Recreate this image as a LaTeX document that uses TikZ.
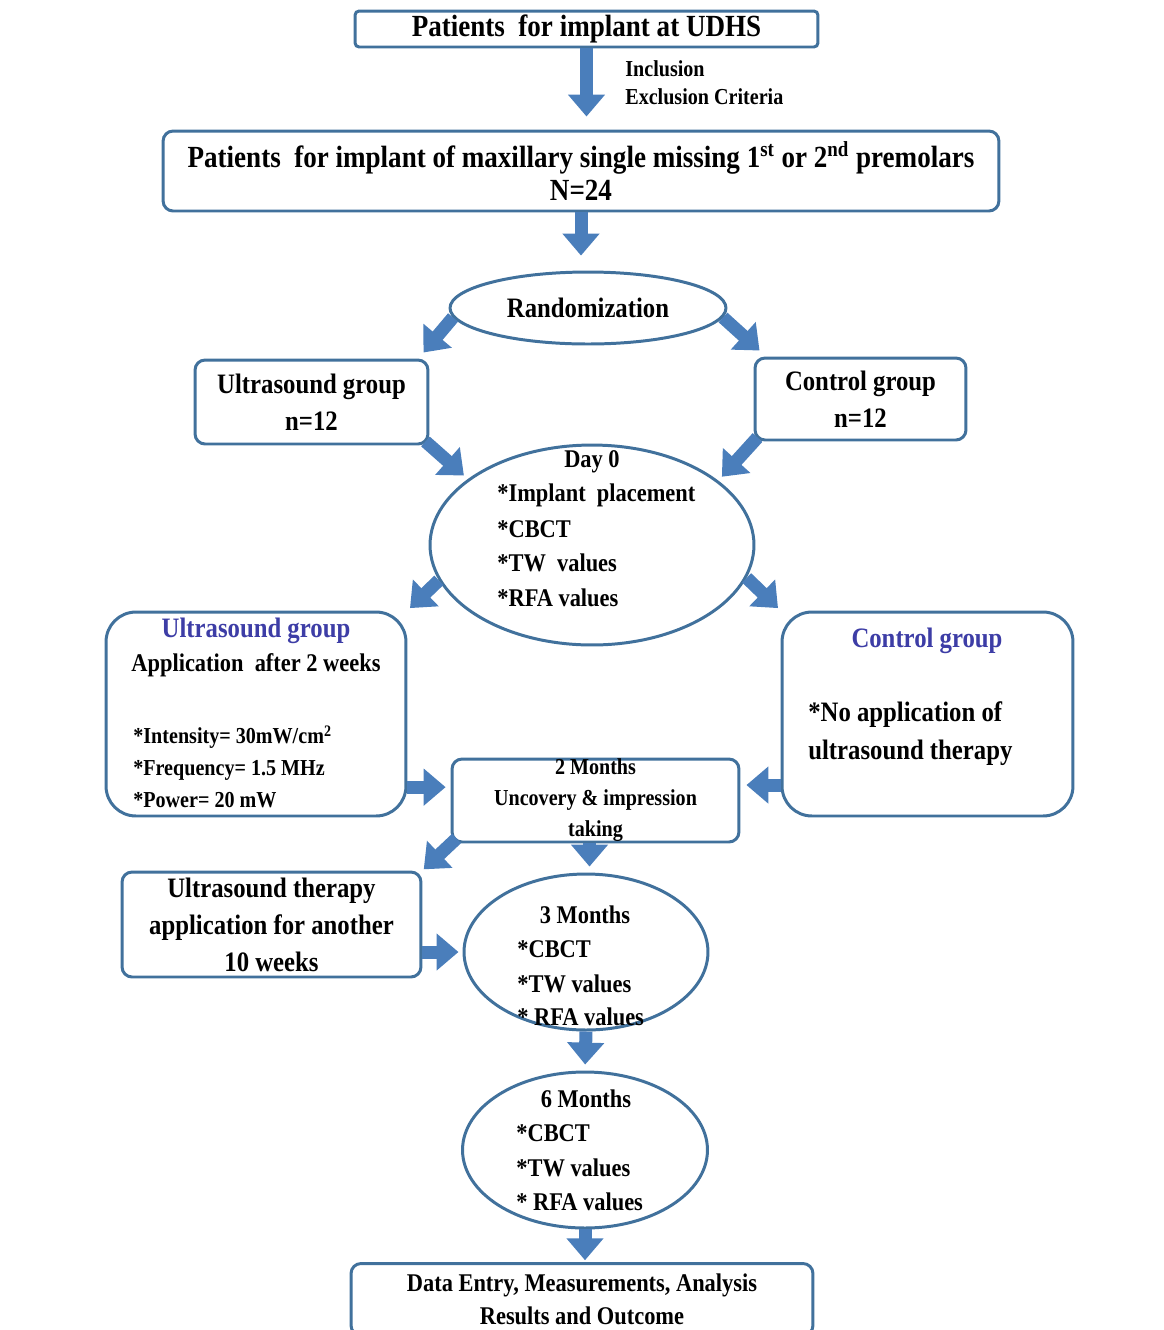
\documentclass[tikz,border=0pt]{standalone}
\usepackage{fontspec}
\setmainfont{Liberation Serif}[FakeStretch=0.88]
\usepackage{tikz}
\usetikzlibrary{arrows.meta,calc,shapes.geometric}
\definecolor{Edge}{HTML}{41719C}
\definecolor{Flow}{HTML}{4A7EBB}
\definecolor{Ink}{HTML}{3D3DA6}

\begin{document}
\begin{tikzpicture}[x=0.02cm,y=-0.02cm,
    box/.style={rectangle,draw=Edge,line width=1.7pt,fill=white,rounded corners=#1,inner sep=0pt,align=center},
    box/.default=5.7pt,
    oval/.style={ellipse,draw=Edge,line width=1.7pt,fill=white,inner sep=0pt},
    flow/.style={draw=Flow,line width=7.4pt,-{Triangle[width=20.4pt,length=12.5pt]}},
    txt/.style={inner sep=0pt},
    fA/.style={font=\fontsize{17.5}{19.3}\selectfont\bfseries},
    fB/.style={font=\fontsize{16}{21}\selectfont\bfseries},
    fC/.style={font=\fontsize{14.5}{18.7}\selectfont\bfseries},
    fD/.style={font=\fontsize{13}{17.6}\selectfont\bfseries}]
    \useasboundingbox (0,0) rectangle (1164,1330);
    \clip (0,0) rectangle (1164,1330);

    \node[box=2.3pt,fA,minimum width=9.26cm,minimum height=0.72cm] (top) at (586.5,29) {Patients\ \ for implant at UDHS};
    \node[txt,fD,anchor=west] (incl) at (625,69) {Inclusion};
    \node[txt,fD,anchor=west] (excl) at (625,97) {Exclusion Criteria};

    \node[box,fA,minimum width=16.72cm,minimum height=1.6cm] (pool) at (581,171) {Patients\ \ for implant of maxillary single missing 1\textsuperscript{st} or 2\textsuperscript{nd} premolars\\N=24};
    \node[oval,fB,minimum width=5.52cm,minimum height=1.44cm] (rand) at (588,308) {Randomization};

    \node[box,fB,minimum width=4.66cm,minimum height=1.68cm] (usg) at (311.5,402) {Ultrasound group\\n=12};
    \node[box,fB,minimum width=4.22cm,minimum height=1.64cm] (ctg) at (860.5,399) {Control group\\n=12};

    \node[oval,minimum width=6.48cm,minimum height=4cm] (day0) at (592,545) {};
    \node[txt,fC] (day0-h) at (592,462) {Day 0};
    \node[txt,fC,anchor=west] (day0-a) at (497,495) {*Implant\ \ placement};
    \node[txt,fC,anchor=west] (day0-b) at (497,529) {*CBCT};
    \node[txt,fC,anchor=west] (day0-c) at (497,563) {*TW\ \ values};
    \node[txt,fC,anchor=west] (day0-d) at (497,598) {*RFA values};

    \node[box=17pt,minimum width=6cm,minimum height=4.08cm] (usapp) at (256,714) {};
    \node[txt,fB,text=Ink] (usapp-h) at (256,631) {Ultrasound group};
    \node[txt,fC] (usapp-a) at (256,665) {Application\ \ after 2 weeks};
    \node[txt,fD,anchor=west] (usapp-b) at (133,737) {*Intensity= 30mW/cm\textsuperscript{2}};
    \node[txt,fD,anchor=west] (usapp-c) at (133,770) {*Frequency= 1.5 MHz};
    \node[txt,fD,anchor=west] (usapp-d) at (133,800) {*Power= 20 mW};

    \node[box=17pt,minimum width=5.82cm,minimum height=4.08cm] (ctapp) at (927.5,714) {};
    \node[txt,fB,text=Ink] (ctapp-h) at (927,641) {Control group};
    \node[txt,fB,anchor=west] (ctapp-a) at (808,715) {*No application of};
    \node[txt,fB,anchor=west] (ctapp-b) at (808,753) {ultrasound therapy};

    \node[box,fD,minimum width=5.74cm,minimum height=1.66cm] (twom) at (595.5,800.5) {2 Months\\Uncovery \& impression\\taking};
    \node[box,fB,minimum width=5.98cm,minimum height=2.1cm] (thera) at (271.5,924.5) {Ultrasound therapy\\application for another\\10 weeks};

    \node[oval,minimum width=4.88cm,minimum height=3.12cm] (thrm) at (586,952) {};
    \node[txt,fC] (thrm-h) at (585,915) {3 Months};
    \node[txt,fC,anchor=west] (thrm-a) at (517,949) {*CBCT};
    \node[txt,fC,anchor=west] (thrm-b) at (517,984) {*TW values};
    \node[txt,fC,anchor=west] (thrm-c) at (517,1017) {* RFA values};

    \node[oval,minimum width=4.9cm,minimum height=3.12cm] (sixm) at (585,1150) {};
    \node[txt,fC] (sixm-h) at (586,1099) {6 Months};
    \node[txt,fC,anchor=west] (sixm-a) at (516,1133) {*CBCT};
    \node[txt,fC,anchor=west] (sixm-b) at (516,1168) {*TW values};
    \node[txt,fC,anchor=west] (sixm-c) at (516,1202) {* RFA values};

    \node[box,fC,minimum width=9.24cm,minimum height=1.44cm,anchor=north] (final) at (582,1262) {Data Entry, Measurements, Analysis\\Results and Outcome};

    \draw[flow,shorten >=7.4pt] (top.south) -- (top.south |- pool.north);
    \draw[flow,shorten >=8.5pt] (pool.south) -- (pool.south |- rand.north);
    \draw[flow] (rand.184) -- ($(usg.north east)+(-6,-6)$);
    \draw[flow] (rand.356) -- ($(ctg.north west)+(6,-6)$);
    \draw[flow,shorten >=3pt] ($(usg.south east)+(-4,-4)$) -- (day0.152);
    \draw[flow,shorten >=3pt] ($(ctg.south west)+(4,-4)$) -- (day0.27);
    \draw[flow,shorten >=2pt] (day0.193) -- (usapp.north east);
    \draw[flow,shorten >=2pt] (day0.348) -- (ctapp.north west);
    \draw[flow,shorten >=2.8pt] ([yshift=7.6pt]twom.west -| usapp.east) -- ([yshift=7.6pt]twom.west);
    \draw[flow,shorten >=3.4pt] ([yshift=8.8pt]twom.east -| ctapp.west) -- ([yshift=8.8pt]twom.east);
    \draw[flow,shorten >=1pt] ($(twom.south west)+(6,-5)$) -- (thera.north east);
    \draw[flow,shorten >=3.4pt] ([xshift=2pt]thrm.north |- twom.south) -- ([xshift=2pt]thrm.north);
    \draw[flow,shorten >=2.3pt] (thera.east |- thrm.west) -- (thrm.west);
    \draw[flow,shorten >=3.4pt] (thrm.south) -- (sixm.north);
    \draw[flow,shorten >=1pt] (sixm.south) -- (sixm.south |- final.north);
\end{tikzpicture}
\end{document}
